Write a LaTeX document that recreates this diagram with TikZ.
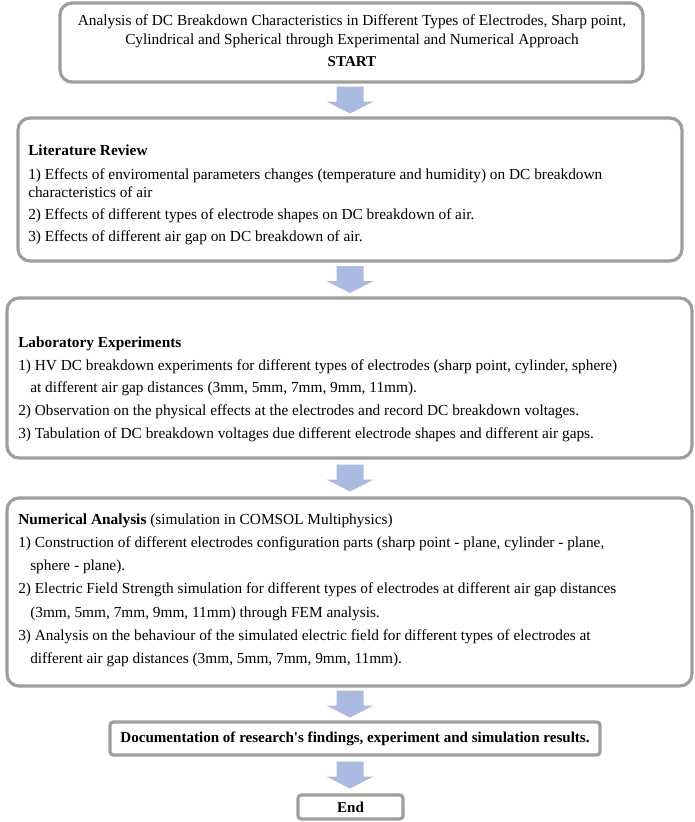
\documentclass[tikz,border=0pt]{standalone}
\usepackage{fontspec}
\setmainfont{Liberation Serif}
\usetikzlibrary{calc,fit}
\definecolor{boxline}{RGB}{158,158,158}
\definecolor{arrowfill}{RGB}{170,186,224}
\newcommand\fatarrow[3]{%
  \path let \p1=(#2.south), \p2=(#3.north) in coordinate (#1) at (262.5pt,{0.5*\y1+0.5*\y2});
  \fill[arrowfill] ($(#1)+(-13.5,-13.5)$) -- ($(#1)+(13.5,-13.5)$) -- ($(#1)+(13.5,1.5)$)
    -- ($(#1)+(23.5,1.5)$) -- ($(#1)+(0,13.5)$) -- ($(#1)+(-23.5,1.5)$) -- ($(#1)+(-13.5,1.5)$) -- cycle;}
\begin{document}
\begin{tikzpicture}[x=0.75pt,y=-0.75pt,
  box/.style={draw=boxline, line width=2.4pt, rounded corners=9pt, inner sep=0pt},
  sbox/.style={draw=boxline, line width=2.4pt, rounded corners=2.5pt, inner sep=0pt},
  body/.style={font=\fontsize{11.5}{13}\selectfont, inner sep=0pt, anchor=base west},
  ctext/.style={font=\fontsize{11.5}{13}\selectfont, inner sep=0pt, anchor=base},
  btext/.style={font=\fontsize{11.3}{13}\selectfont\bfseries, inner sep=0pt, anchor=base}]
\useasboundingbox (0,0) rectangle (695,822);
% boxes
\node[box, fit={(60,3) (643,82)}] (b1) {};
\node[box, fit={(18,118) (682,261)}] (b2) {};
\node[box, fit={(7,298) (692,458)}] (b3) {};
\node[box, fit={(7,498) (692,686)}] (b4) {};
\node[sbox, fit={(110,722) (600,755)}] (b5) {};
\node[sbox, fit={(298,795) (403,819)}] (b6) {};
% arrows
\fatarrow{m1}{b1}{b2}
\fatarrow{m2}{b2}{b3}
\fatarrow{m3}{b3}{b4}
\fatarrow{m4}{b4}{b5}
\fatarrow{m5}{b5}{b6}
% box 1
\node[ctext] (t11) at (352,25) {Analysis of DC Breakdown Characteristics in Different Types of Electrodes, Sharp point,};
\node[ctext] (t12) at (352,44) {Cylindrical and Spherical through Experimental and Numerical Approach};
\node[btext] (t13) at (352,66) {START};
% box 2
\node[body] (t21) at (28,155) {\bfseries Literature Review};
\node[body] (t22) at (28,179) {1) Effects of enviromental parameters changes (temperature and humidity) on DC breakdown};
\node[body] (t23) at (28,197) {characteristics of air};
\node[body] (t24) at (28,219) {2) Effects of different types of electrode shapes on DC breakdown of air.};
\node[body] (t25) at (28,241) {3) Effects of different air gap on DC breakdown of air.};
% box 3
\node[body] (t31) at (18,347) {\bfseries Laboratory Experiments};
\node[body] (t32) at (18,370) {1) HV DC breakdown experiments for different types of electrodes (sharp point, cylinder, sphere)};
\node[body] (t33) at (30,392) {at different air gap distances (3mm, 5mm, 7mm, 9mm, 11mm).};
\node[body] (t34) at (18,415) {2) Observation on the physical effects at the electrodes and record DC breakdown voltages.};
\node[body] (t35) at (18,438) {3) Tabulation of DC breakdown voltages due different electrode shapes and different air gaps.};
% box 4
\node[body] (t41) at (18,524) {\textbf{Numerical Analysis} (simulation in COMSOL Multiphysics)};
\node[body] (t42) at (18,547) {1) Construction of different electrodes configuration parts (sharp point - plane, cylinder - plane,};
\node[body] (t43) at (30,570) {sphere - plane).};
\node[body] (t44) at (18,593) {2) Electric Field Strength simulation for different types of electrodes at different air gap distances};
\node[body] (t45) at (30,617) {(3mm, 5mm, 7mm, 9mm, 11mm) through FEM analysis.};
\node[body] (t46) at (18,640) {3) Analysis on the behaviour of the simulated electric field for different types of electrodes at};
\node[body] (t47) at (30,663) {different air gap distances (3mm, 5mm, 7mm, 9mm, 11mm).};
% box 5, 6
\node[btext] (t51) at (355,742) {Documentation of research\textquotesingle s findings, experiment and simulation results.};
\node[btext] (t61) at (350.5,812) {End};
\end{tikzpicture}
\end{document}
